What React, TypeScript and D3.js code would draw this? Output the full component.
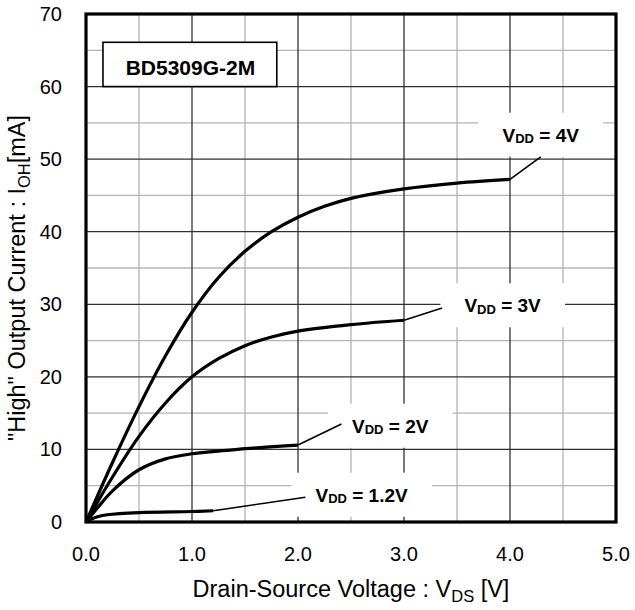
import React, { useEffect, useRef } from "react";
import * as d3 from "d3";

// ---- data ----
const vds4 = [0, 0.25, 0.5, 0.75, 1.0, 1.25, 1.5, 1.75, 2.0, 2.25, 2.5, 3.0, 3.5, 4.0];
const ioh4 = [0, 8.2, 15.9, 22.9, 28.9, 33.7, 37.3, 40.0, 42.0, 43.5, 44.6, 45.9, 46.7, 47.2];
const vds3 = [0, 0.25, 0.5, 0.75, 1.0, 1.25, 1.5, 1.75, 2.0, 2.5, 3.0];
const ioh3 = [0, 6.2, 11.8, 16.4, 20.0, 22.5, 24.3, 25.5, 26.3, 27.2, 27.8];
const vds2 = [0, 0.1, 0.25, 0.5, 0.75, 1.0, 1.5, 2.0];
const ioh2 = [0, 1.8, 4.3, 7.2, 8.7, 9.4, 10.1, 10.6];
const vds12 = [0, 0.05, 0.1, 0.2, 0.5, 1.0, 1.2];
const ioh12 = [0, 0.4, 0.7, 1.0, 1.3, 1.45, 1.55];

const seriesLabels = ["4V", "3V", "2V", "1.2V"];
const xTicks = [0, 1, 2, 3, 4, 5];
const xMinor = [0.5, 1.5, 2.5, 3.5, 4.5];
const yTicks = [0, 10, 20, 30, 40, 50, 60, 70];
const yMinor = [5, 15, 25, 35, 45, 55, 65];
const chartTitle = "BD5309G-2M";

// annotation layout (data coords): leader end, label center x, label baseline y
const leaderEnds = [
  [4.29, 50.3],
  [3.36, 29.5],
  [2.41, 13.5],
  [2.07, 3.4],
];
const labelPos = [
  [4.29, 52.4],
  [3.93, 28.9],
  [2.87, 12.3],
  [2.6, 2.8],
];

const W = 635;
const H = 610;
const L = 86, R = 616, T = 14, B = 522;
const FONT = "'Liberation Sans', Arial, sans-serif";

export default function App() {
  const ref = useRef<SVGSVGElement | null>(null);

  useEffect(() => {
    const svg = d3.select(ref.current);
    svg.selectAll("*").remove();

    const x = d3.scaleLinear().domain([0, 5]).range([L, R]);
    const y = d3.scaleLinear().domain([0, 70]).range([B, T]);

    const g = svg.append("g");

    // minor grid
    g.selectAll(".vminor").data(xMinor).enter().append("line")
      .attr("x1", (d) => x(d)).attr("x2", (d) => x(d)).attr("y1", T).attr("y2", B)
      .attr("stroke", "#b4b4b4").attr("stroke-width", 1.3);
    g.selectAll(".hminor").data(yMinor).enter().append("line")
      .attr("y1", (d) => y(d)).attr("y2", (d) => y(d)).attr("x1", L).attr("x2", R)
      .attr("stroke", "#b4b4b4").attr("stroke-width", 1.3);
    // major grid
    g.selectAll(".vmajor").data(xTicks.slice(1, -1)).enter().append("line")
      .attr("x1", (d) => x(d)).attr("x2", (d) => x(d)).attr("y1", T).attr("y2", B)
      .attr("stroke", "#303030").attr("stroke-width", 1.3);
    g.selectAll(".hmajor").data(yTicks.slice(1, -1)).enter().append("line")
      .attr("y1", (d) => y(d)).attr("y2", (d) => y(d)).attr("x1", L).attr("x2", R)
      .attr("stroke", "#303030").attr("stroke-width", 1.3);

    // title box
    const tb = g.append("g");
    tb.append("rect")
      .attr("x", x(0.16)).attr("y", y(66.1))
      .attr("width", x(1.8) - x(0.16)).attr("height", y(60.0) - y(66.1))
      .attr("fill", "white").attr("stroke", "black").attr("stroke-width", 1.6);
    tb.append("text")
      .attr("x", x(0.985)).attr("y", y(60.0) - 12)
      .attr("text-anchor", "middle")
      .attr("font-family", FONT).attr("font-weight", "bold").attr("font-size", 21)
      .text(chartTitle);

    // curves
    const series = [
      vds4.map((v, i) => [v, ioh4[i]]),
      vds3.map((v, i) => [v, ioh3[i]]),
      vds2.map((v, i) => [v, ioh2[i]]),
      vds12.map((v, i) => [v, ioh12[i]]),
    ];
    const line = d3.line<number[]>().x((d) => x(d[0])).y((d) => y(d[1])).curve(d3.curveCatmullRom.alpha(0.5));

    // annotation boxes
    series.forEach((s, i) => {
      const [lx, ly] = labelPos[i];
      const tg = g.append("g");
      const t = tg.append("text")
        .attr("x", x(lx)).attr("y", y(ly))
        .attr("text-anchor", "middle")
        .attr("font-family", FONT).attr("font-weight", "bold").attr("font-size", 19);
      t.append("tspan").text("V");
      t.append("tspan").attr("font-size", 13).attr("dy", 1.5).text("DD");
      t.append("tspan").attr("dy", -1.5).text(" = " + seriesLabels[i]);
      const bb = (t.node() as SVGTextElement).getBBox();
      tg.insert("rect", "text")
        .attr("x", bb.x - 24).attr("y", y(ly) - 29)
        .attr("width", bb.width + 48).attr("height", 44)
        .attr("fill", "white");
    });

    series.forEach((s, i) => {
      g.append("path").attr("d", line(s) as string)
        .attr("fill", "none").attr("stroke", "black").attr("stroke-width", 3.2)
        .attr("stroke-linejoin", "round");
      const last = s[s.length - 1];
      g.append("line")
        .attr("x1", x(last[0])).attr("y1", y(last[1]))
        .attr("x2", x(leaderEnds[i][0])).attr("y2", y(leaderEnds[i][1]))
        .attr("stroke", "black").attr("stroke-width", 1.6);
    });

    // frame
    g.append("rect").attr("x", L).attr("y", T).attr("width", R - L).attr("height", B - T)
      .attr("fill", "none").attr("stroke", "black").attr("stroke-width", 3.2);

    // tick labels
    g.selectAll(".xl").data(xTicks).enter().append("text")
      .attr("x", (d) => x(d)).attr("y", B + 39)
      .attr("text-anchor", "middle").attr("font-family", FONT).attr("font-size", 20)
      .text((d) => d3.format(".1f")(d));
    g.selectAll(".yl").data(yTicks).enter().append("text")
      .attr("x", 62).attr("y", (d) => y(d) + 7)
      .attr("text-anchor", "end").attr("font-family", FONT).attr("font-size", 20)
      .text((d) => String(d));

    // axis titles
    const xt = g.append("text").attr("x", 351).attr("y", 597)
      .attr("text-anchor", "middle").attr("font-family", FONT).attr("font-size", 23.5);
    xt.append("tspan").text("Drain-Source Voltage : V");
    xt.append("tspan").attr("font-size", 16.5).attr("dy", 5).text("DS");
    xt.append("tspan").attr("dy", -5).text(" [V]");

    const yt = g.append("text")
      .attr("transform", `translate(25, 278) rotate(-90)`)
      .attr("text-anchor", "middle").attr("font-family", FONT).attr("font-size", 23.5);
    yt.append("tspan").text('"High" Output Current : I');
    yt.append("tspan").attr("font-size", 16.5).attr("dy", 5).text("OH");
    yt.append("tspan").attr("dy", -5).text("[mA]");
  }, []);

  return (
    <svg ref={ref} width={W} height={H} style={{ position: "absolute", left: 0, top: 0, background: "white" }} />
  );
}
